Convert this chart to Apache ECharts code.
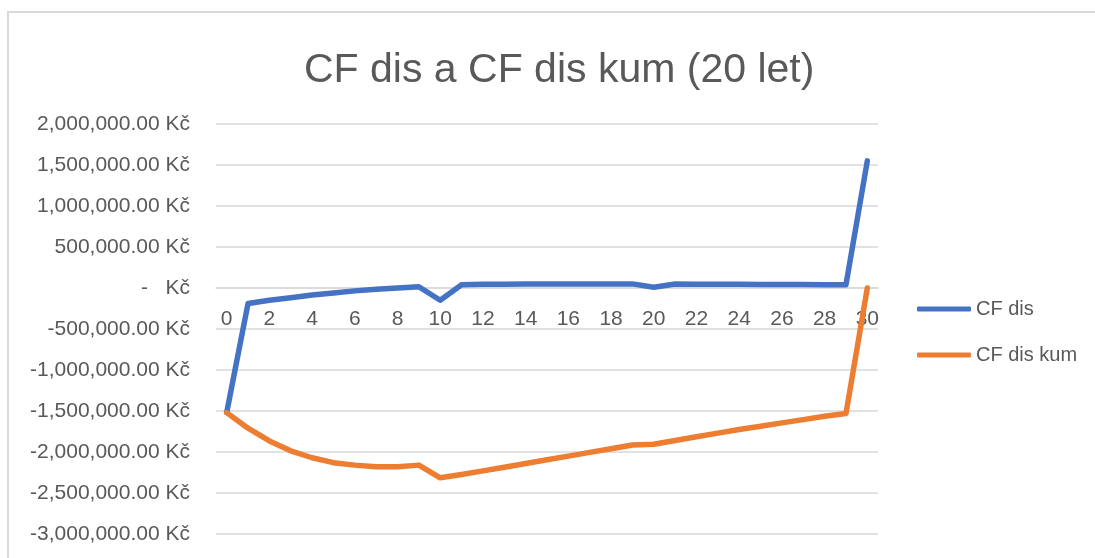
<!DOCTYPE html>
<html>
<head>
<meta charset="utf-8">
<title>CF dis a CF dis kum</title>
<script src="https://cdn.jsdelivr.net/npm/echarts@6/dist/echarts.min.js"></script>
<style>
    html, body { margin: 0; padding: 0; background: #fff; }
    #chart { width: 1095px; height: 558px; }
</style>
</head>
<body>
<div id="chart"></div>
<script>
// roky 0..30
const years = [];
for (let i = 0; i <= 30; i++) years.push(String(i));

// diskontovane cash flow (Kč)
const cfDis = [
    -1520000, -190000, -150000, -120000, -85000, -60000, -35000, -15000, 0, 15000,
    -150000, 40000, 45000, 47000, 48000, 50000, 50000, 50000, 50000, 50000,
    10000, 48000, 47000, 46000, 45000, 44000, 43000, 42000, 41000, 40000,
    1550000
];

// kumulovane diskontovane cash flow (Kč)
const cfDisKum = [
    -1520000, -1710000, -1865000, -1985000, -2070000, -2130000, -2160000, -2180000, -2180000, -2160000,
    -2315000, -2275000, -2230000, -2185000, -2140000, -2095000, -2050000, -2005000, -1960000, -1915000,
    -1905000, -1860000, -1815000, -1770000, -1725000, -1685000, -1645000, -1605000, -1565000, -1530000,
    0
];

const textColor = '#595959';
const gridColor = '#d9d9d9';
const font = 'Liberation Sans';

function formatKc(value) {
    if (value === 0) return '-   Kč';
    return value.toLocaleString('en-US', { minimumFractionDigits: 2, maximumFractionDigits: 2 }) + ' Kč';
}

const myChart = echarts.init(document.getElementById('chart'));

const option = {
    animation: false,
    title: {
        text: 'CF dis a CF dis kum (20 let)',
        left: 299,
        top: 45,
        textStyle: {
            fontFamily: font,
            fontSize: 41,
            fontWeight: 'normal',
            color: textColor
        }
    },
    graphic: [
        {
            type: 'rect',
            shape: { x: 8, y: 12, width: 1100, height: 570 },
            style: { fill: 'none', stroke: gridColor, lineWidth: 2 },
            silent: true
        }
    ],
    legend: {
        orient: 'vertical',
        left: 912,
        top: 293,
        icon: 'roundRect',
        itemWidth: 54,
        itemHeight: 5,
        itemGap: 24,
        textStyle: {
            fontFamily: font,
            fontSize: 20,
            color: textColor,
            lineHeight: 22
        },
        data: ['CF dis', 'CF dis kum']
    },
    grid: {
        left: 216,
        right: 217,
        top: 124,
        bottom: 24,
        outerBoundsMode: 'none',
        containLabel: false
    },
    xAxis: {
        type: 'category',
        data: years,
        boundaryGap: true,
        offset: -246,
        axisLine: { onZero: false, lineStyle: { color: gridColor, width: 1.5 } },
        axisTick: { show: false },
        axisLabel: {
            interval: 1,
            margin: 21,
            fontFamily: font,
            fontSize: 21,
            color: textColor
        }
    },
    yAxis: {
        type: 'value',
        min: -3000000,
        max: 2000000,
        interval: 500000,
        axisLine: { show: false },
        axisTick: { show: false },
        splitLine: { lineStyle: { color: gridColor, width: 1.5 } },
        axisLabel: {
            margin: 26,
            fontFamily: font,
            fontSize: 21,
            color: textColor,
            formatter: formatKc
        }
    },
    series: [
        {
            name: 'CF dis',
            type: 'line',
            data: cfDis,
            symbol: 'none',
            lineStyle: { width: 5.5, color: '#4472C4', cap: 'round', join: 'round' },
            itemStyle: { color: '#4472C4' }
        },
        {
            name: 'CF dis kum',
            type: 'line',
            data: cfDisKum,
            symbol: 'none',
            lineStyle: { width: 5.5, color: '#ED7D31', cap: 'round', join: 'round' },
            itemStyle: { color: '#ED7D31' }
        }
    ]
};

myChart.setOption(option);
window.addEventListener('resize', myChart.resize);
</script>
</body>
</html>
